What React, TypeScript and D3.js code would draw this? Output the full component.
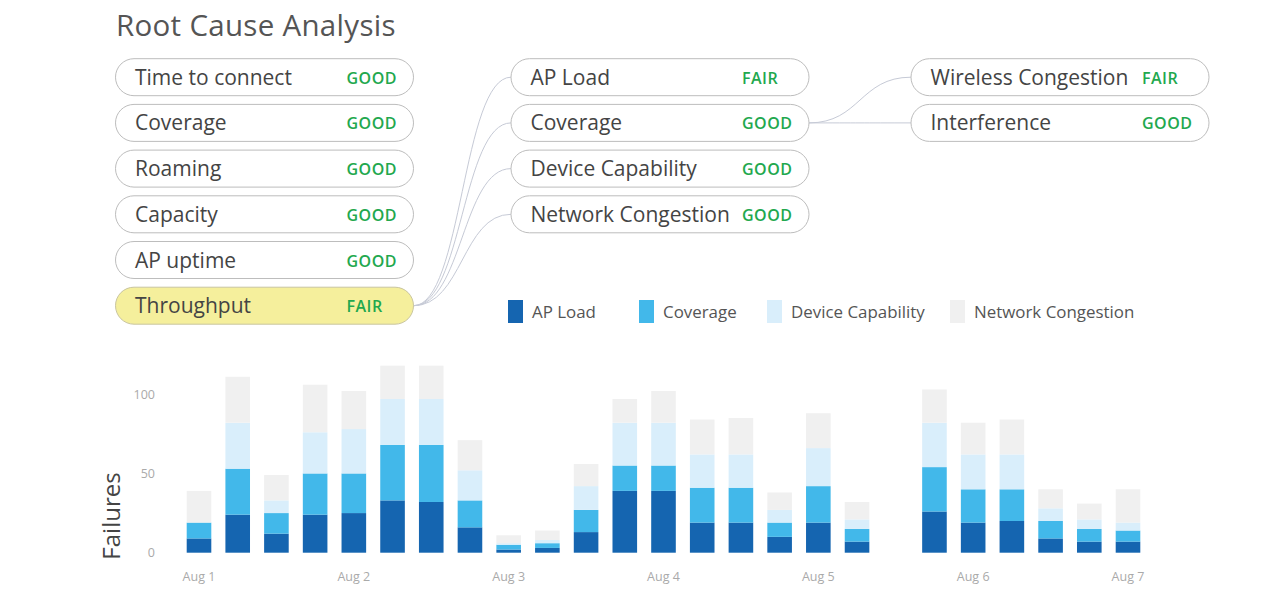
import React from "react"
import * as d3 from "d3"

// top panel: metric pills
const rootMetrics = ["Time to connect", "Coverage", "Roaming", "Capacity", "AP uptime", "Throughput"]
const rootStatus = ["GOOD", "GOOD", "GOOD", "GOOD", "GOOD", "FAIR"]
const throughputCauses = ["AP Load", "Coverage", "Device Capability", "Network Congestion"]
const throughputStatus = ["FAIR", "GOOD", "GOOD", "GOOD"]
const coverageCauses = ["Wireless Congestion", "Interference"]
const coverageStatus = ["FAIR", "GOOD"]

// bottom chart: failures every 6 hours (Aug 5 12:00 missing)
const barTimes = [
  "2017-08-01 00", "2017-08-01 06", "2017-08-01 12", "2017-08-01 18",
  "2017-08-02 00", "2017-08-02 06", "2017-08-02 12", "2017-08-02 18",
  "2017-08-03 00", "2017-08-03 06", "2017-08-03 12", "2017-08-03 18",
  "2017-08-04 00", "2017-08-04 06", "2017-08-04 12", "2017-08-04 18",
  "2017-08-05 00", "2017-08-05 06", "2017-08-05 18",
  "2017-08-06 00", "2017-08-06 06", "2017-08-06 12", "2017-08-06 18",
  "2017-08-07 00",
]
const apLoad = [9, 24, 12, 24, 25, 33, 32, 16, 2, 3, 13, 39, 39, 19, 19, 10, 19, 7, 26, 19, 20, 9, 7, 7]
const coverage = [10, 29, 13, 26, 25, 35, 36, 17, 3, 3, 14, 16, 16, 22, 22, 9, 23, 8, 28, 21, 20, 11, 8, 7]
const deviceCapability = [0, 29, 8, 26, 28, 29, 29, 19, 1, 2, 15, 27, 27, 21, 21, 8, 24, 6, 28, 22, 22, 8, 6, 5]
const networkCongestion = [20, 29, 16, 30, 24, 21, 21, 19, 5, 6, 14, 15, 20, 22, 23, 11, 22, 11, 21, 20, 22, 12, 10, 21]
const seriesNames = ["AP Load", "Coverage", "Device Capability", "Network Congestion"]
const seriesColors = ["#1565b0", "#42b8ea", "#d9eefb", "#f0f0f0"]
const yTicks = [0, 50, 100]

const FONT = "'Open Sans', 'Noto Sans', sans-serif"
const GREEN = "#22a84e"

const parseTime = d3.timeParse("%Y-%m-%d %H")

function Pill({ x, y, label, status, highlight }: { x: number; y: number; label: string; status: string; highlight?: boolean }) {
  return (
    <g transform={`translate(${x},${y})`}>
      <rect x={0} y={-18.5} width={298} height={37} rx={18.5}
        fill={highlight ? "#f5ef9c" : "#fff"} stroke={highlight ? "#c9c5a0" : "#bdbdbd"} strokeWidth={1} />
      <text x={19.5} y={7.5} fontSize={21} fill="#444" fontFamily={FONT}>{label}</text>
      <text x={231} y={6.5} fontSize={16} fontWeight={600} fill={GREEN} fontFamily={FONT} letterSpacing={0.5}>{status}</text>
    </g>
  )
}

export default function App() {
  const width = 1280
  const height = 603

  // pill layout
  const rowY = (i: number) => 77.2 + i * 45.7
  const col1 = 115.5
  const col2 = 511
  const col3 = 911
  const pillW = 298
  const link = d3.linkHorizontal<any, [number, number]>().source((d: any) => d.source).target((d: any) => d.target)

  // chart
  const times = barTimes.map((t) => parseTime(t) as Date)
  const x = d3.scaleTime()
    .domain([parseTime("2017-08-01 00") as Date, parseTime("2017-08-07 00") as Date])
    .range([199, 1128])
  const y = d3.scaleLinear().domain([0, 100]).range([552.7, 394.2])
  const barW = 24.6

  const rows = barTimes.map((_, i) => ({
    i,
    "AP Load": apLoad[i],
    "Coverage": coverage[i],
    "Device Capability": deviceCapability[i],
    "Network Congestion": networkCongestion[i],
  }))
  const stacked = d3.stack<any>().keys(seriesNames)(rows)
  const dayTicks = d3.timeDay.range(x.domain()[0], d3.timeDay.offset(x.domain()[1], 1))
  const fmt = d3.timeFormat("%b %-d")

  const legendX = [508, 639, 767, 950]

  return (
    <svg width={width} height={height} style={{ position: "absolute", left: 0, top: 0, background: "#fff" }}>
      <text x={116} y={36} fontSize={29.5} fill="#555" fontFamily={FONT} letterSpacing={0.3}>Root Cause Analysis</text>

      {/* connectors */}
      <g fill="none" stroke="#c6cad6" strokeWidth={1}>
        {throughputCauses.map((_, i) => (
          <path key={i} d={link({ source: [col1 + pillW, rowY(5)], target: [col2, rowY(i)] } as any) as string} />
        ))}
        {coverageCauses.map((_, i) => (
          <path key={i} d={link({ source: [col2 + pillW, rowY(1)], target: [col3, rowY(i)] } as any) as string} />
        ))}
      </g>

      {rootMetrics.map((m, i) => (
        <Pill key={m} x={col1} y={rowY(i)} label={m} status={rootStatus[i]} highlight={m === "Throughput"} />
      ))}
      {throughputCauses.map((m, i) => (
        <Pill key={m} x={col2} y={rowY(i)} label={m} status={throughputStatus[i]} />
      ))}
      {coverageCauses.map((m, i) => (
        <Pill key={m} x={col3} y={rowY(i)} label={m} status={coverageStatus[i]} />
      ))}

      {/* legend */}
      {seriesNames.map((s, i) => (
        <g key={s} transform={`translate(${legendX[i]},300)`}>
          <rect x={0} y={0} width={15} height={23} fill={seriesColors[i]} />
          <text x={24} y={17.5} fontSize={16.9} fill="#555" fontFamily={FONT}>{s}</text>
        </g>
      ))}

      {/* bars */}
      {stacked.map((layer, k) => (
        <g key={layer.key} fill={seriesColors[k]}>
          {layer.map((d: any, i: number) => (
            <rect key={i} x={x(times[i]) - barW / 2} y={y(d[1])} width={barW}
              height={Math.max(0, y(d[0]) - y(d[1]))} />
          ))}
        </g>
      ))}

      {/* y axis */}
      {yTicks.map((t) => (
        <text key={t} x={155} y={y(t) + 4.5} textAnchor="end" fontSize={12.5} fill="#aaa" fontFamily={FONT}>{t}</text>
      ))}
      <text transform="translate(120,516) rotate(-90)" textAnchor="middle" fontSize={24} fill="#444" fontFamily={FONT}>Failures</text>

      {/* x axis */}
      {dayTicks.map((d) => (
        <text key={+d} x={x(d)} y={581} textAnchor="middle" fontSize={12.5} fill="#aaa" fontFamily={FONT}>{fmt(d)}</text>
      ))}
    </svg>
  )
}
